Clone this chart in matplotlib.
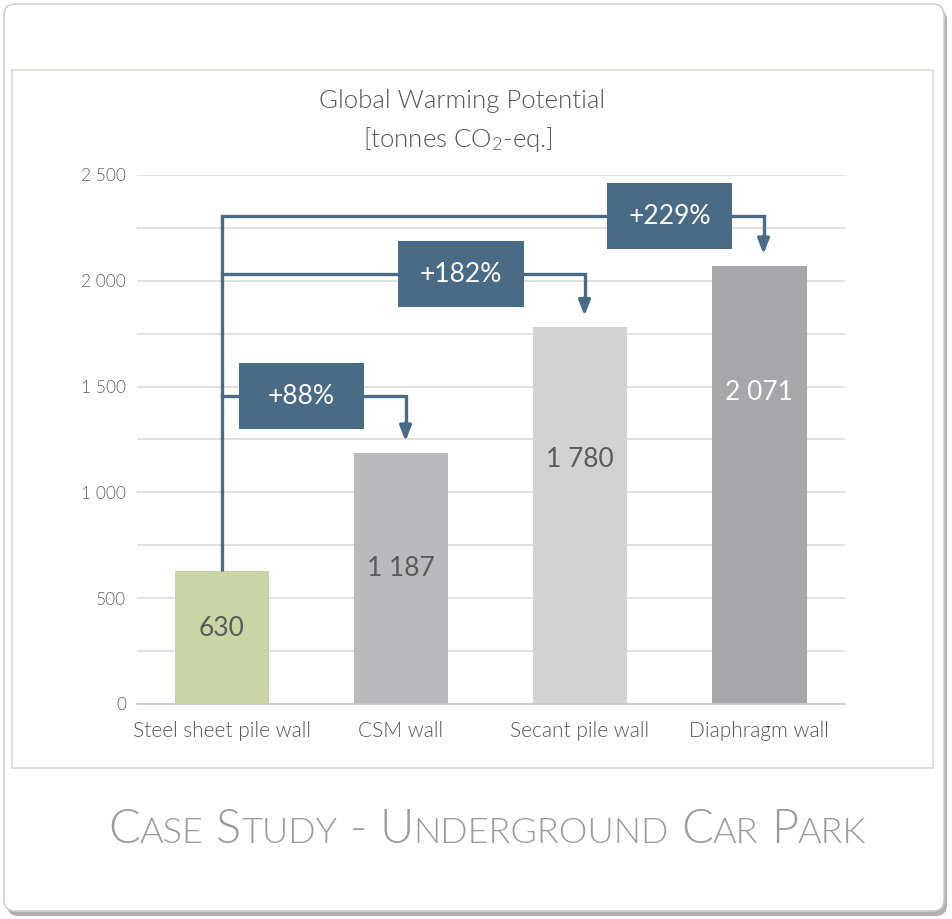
import numpy as np
import matplotlib
matplotlib.use("Agg")
import matplotlib.pyplot as plt
from matplotlib.patches import FancyBboxPatch, Rectangle
from matplotlib import font_manager

# data
walls = ["Steel sheet pile wall", "CSM wall", "Secant pile wall", "Diaphragm wall"]
gwp = [630, 1187, 1780, 2071]
value_labels = ["630", "1 187", "1 780", "2 071"]
bar_colors = ["#c9d5a5", "#b9babe", "#d1d2d4", "#a6a7ab"]
label_colors = ["#5a5a5a", "#5a5a5a", "#5a5a5a", "#ffffff"]
label_frac = [0.57, 0.54, 0.65, 0.71]
yticks = [0, 500, 1000, 1500, 2000, 2500]
ytick_labels = ["0", "500", "1 000", "1 500", "2 000", "2 500"]

# comparisons: target bar, percent text, connector height, box centre x
targets = [1, 2, 3]
pct_text = ["+88%", "+182%", "+229%"]
line_y = [1455, 2030, 2306]
box_x = [0.444, 1.335, 2.50]

names = {f.name for f in font_manager.fontManager.ttflist}
base_font = "Lato" if "Lato" in names else "DejaVu Sans"
plt.rcParams["font.family"] = [base_font, "DejaVu Sans"]
plt.rcParams["mathtext.default"] = "regular"
thin = 300

W, H = 952, 919
fig = plt.figure(figsize=(W / 100, H / 100), dpi=100)
fig.patch.set_facecolor("white")

# card with shadow
shadow = FancyBboxPatch((7 / W, 1 - 916 / H), 940 / W, 907 / H,
                        boxstyle="round,pad=0,rounding_size=0.012",
                        transform=fig.transFigure, fc="#8c8c8c", ec="none", alpha=0.7, zorder=-3)
card = FancyBboxPatch((4 / W, 1 - 911 / H), 940 / W, 907 / H,
                      boxstyle="round,pad=0,rounding_size=0.012",
                      transform=fig.transFigure, fc="white", ec="#cfcfcf", lw=1.2, zorder=-2)
frame = Rectangle((12 / W, 1 - 768 / H), 921 / W, 698 / H, transform=fig.transFigure,
                  fc="white", ec="#d9ddcf", lw=1.2, zorder=-1)
for p in (shadow, card, frame):
    fig.patches.append(p)

ax = fig.add_axes([137 / W, 1 - 704 / H, (845 - 137) / W, (704 - 175) / H])
ax.set_facecolor("none")
x = np.arange(len(walls))
ax.bar(x, gwp, width=0.53, color=bar_colors, zorder=2)
ax.set_xlim(-0.475, 3.48)
ax.set_ylim(0, 2500)
ax.set_yticks(yticks)
ax.set_yticklabels(ytick_labels, fontsize=12.5, color="#606060", fontweight=thin)
ax.set_yticks(np.arange(0, 2501, 250), minor=True)
ax.grid(axis="y", which="both", color="#dcdcdc", lw=1.2, zorder=0)
ax.set_axisbelow(True)
ax.tick_params(axis="y", which="both", length=0, pad=8)
ax.set_xticks(x)
ax.set_xticklabels(walls, fontsize=15, color="#555555", fontweight=thin)
ax.tick_params(axis="x", length=0, pad=12)
for s in ["top", "right", "left"]:
    ax.spines[s].set_visible(False)
ax.spines["bottom"].set_color("#c8c8c8")
ax.spines["bottom"].set_linewidth(1.2)

for i, v in enumerate(gwp):
    ax.text(x[i], v * label_frac[i], value_labels[i], ha="center", va="center",
            fontsize=19, color=label_colors[i], zorder=3)

blue = "#4a6b86"
ax.plot([x[0], x[0]], [gwp[0], max(line_y)], color=blue, lw=2.4, zorder=4,
        solid_capstyle="butt")
bw, bh = 0.70, 312
for t, txt, ly, bx in zip(targets, pct_text, line_y, box_x):
    ax_x = x[t] + 0.025
    ax.plot([x[0], ax_x, ax_x], [ly, ly, gwp[t] + 130], color=blue, lw=2.4,
            zorder=4, solid_joinstyle="miter")
    ax.annotate("", xy=(ax_x, gwp[t] + 55), xytext=(ax_x, gwp[t] + 140),
                arrowprops=dict(arrowstyle="-|>,head_length=0.9,head_width=0.35",
                                color=blue, lw=2.4, shrinkA=0, shrinkB=0), zorder=4)
    ax.add_patch(Rectangle((bx - bw / 2, ly - bh / 2), bw, bh, fc=blue, ec="none", zorder=5))
    ax.text(bx, ly, txt, ha="center", va="center", fontsize=19, color="white", zorder=6)

fig.text(462 / W, 1 - 101 / H, "Global Warming Potential", ha="center", va="center",
         fontsize=18.5, color="#555555", fontweight=thin)
fig.text(458 / W, 1 - 139 / H, "[tonnes CO$_2$-eq.]", ha="center", va="center",
         fontsize=18.5, color="#555555", fontweight=thin)

# small caps footer title
title = "Case Study - Underground Car Park"
big, small = 34, 26
renderer = fig.canvas.get_renderer()
pieces = []
for word in title.split(" "):
    runs = []
    for ch in word:
        is_small = ch.islower()
        if runs and runs[-1][1] == is_small:
            runs[-1][0] += ch.upper()
        else:
            runs.append([ch.upper(), is_small])
    pieces.append(runs)

target_w = 866 - 108
gap_frac = 0.26  # word gap relative to big size (pt -> px at dpi 100)


def layout(scale):
    out = []
    cur = 0
    for wi, runs in enumerate(pieces):
        if wi:
            cur += gap_frac * big * scale * 100 / 72
        for run, is_small in runs:
            t = fig.text(0, 1 - 843 / H, run, fontsize=(small if is_small else big) * scale,
                         color="#9b9b9b", va="baseline", ha="left", fontweight=thin)
            out.append((t, cur))
            cur += t.get_window_extent(renderer).width
    return out, cur


texts, total = layout(1.0)
scale = target_w / total
for t, _ in texts:
    t.remove()
texts, total = layout(scale)
start = 487 - total / 2
for t, p in texts:
    t.set_x((start + p) / W)

fig.savefig("out.png", dpi=100)
